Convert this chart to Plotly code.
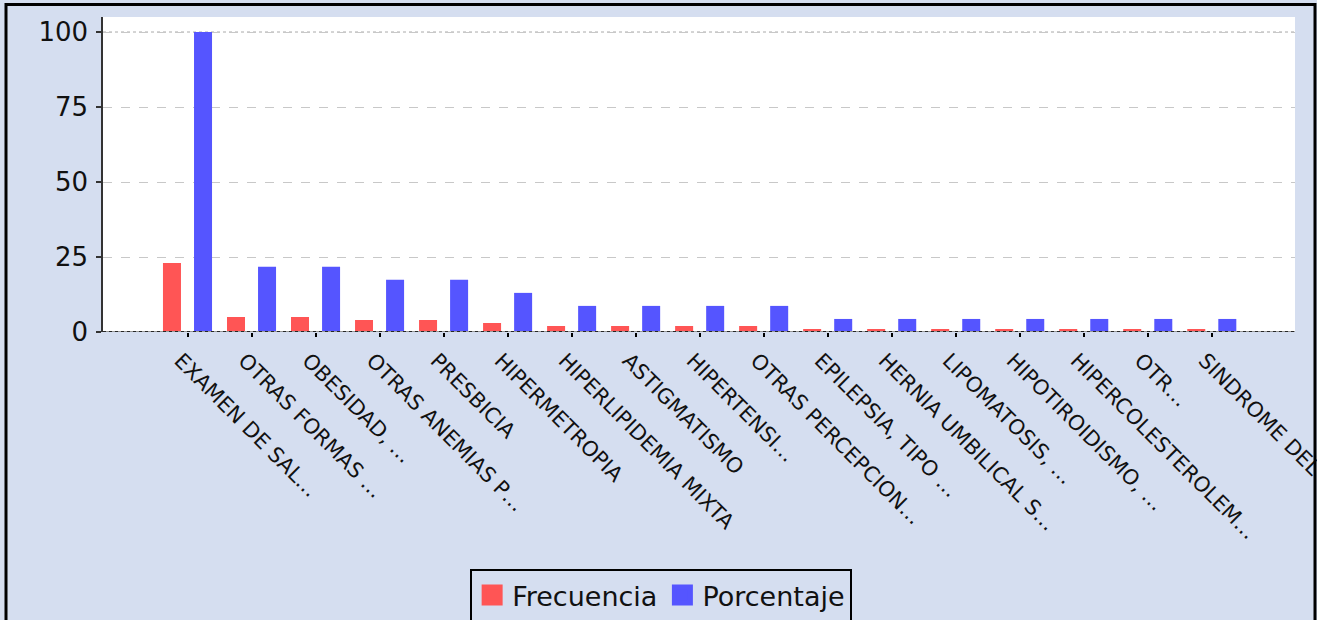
import plotly.graph_objects as go

categories = [
    "EXAMEN DE SAL…", "OTRAS FORMAS …", "OBESIDAD, …", "OTRAS ANEMIAS P…",
    "PRESBICIA", "HIPERMETROPIA", "HIPERLIPIDEMIA MIXTA", "ASTIGMATISMO",
    "HIPERTENSI…", "OTRAS PERCEPCION…", "EPILEPSIA, TIPO …", "HERNIA UMBILICAL S…",
    "LIPOMATOSIS, …", "HIPOTIROIDISMO, …", "HIPERCOLESTEROLEM…", "OTR…",
    "SINDROME DEL TUNEL…",
]
frecuencia = [23, 5, 5, 4, 4, 3, 2, 2, 2, 2, 1, 1, 1, 1, 1, 1, 1]
porcentaje = [100, 21.74, 21.74, 17.39, 17.39, 13.04, 8.7, 8.7, 8.7, 8.7,
              4.35, 4.35, 4.35, 4.35, 4.35, 4.35, 4.35]
y_ticks = [0, 25, 50, 75, 100]

RED = "#FF5555"
BLUE = "#5555FF"
BG = "#D5DEF0"
FONT = "DejaVu Sans"

W, H = 1317, 620
L, R, T, B = 103, 22, 17, 288

fig = go.Figure()
fig.add_trace(go.Bar(x=categories, y=frecuencia, name="Frecuencia",
                     marker=dict(color=RED, line=dict(width=0)), showlegend=False))
fig.add_trace(go.Bar(x=categories, y=porcentaje, name="Porcentaje",
                     marker=dict(color=BLUE, line=dict(width=0)), showlegend=False))
# legend entries with larger square symbols
for nm, col in (("Frecuencia", RED), ("Porcentaje", BLUE)):
    fig.add_trace(go.Scatter(x=[None], y=[None], mode="markers", name=nm,
                             marker=dict(symbol="square", size=16, color=col,
                                         line=dict(color=col, width=5))))

pw = W - L - R
ph = H - T - B
def px_to_paper_x(px):
    return (px - L) / pw
def px_to_paper_y(py):
    return (H - B - py) / ph

shapes = [
    # 100 gridline dotted
    dict(type="line", xref="paper", x0=0, x1=1, yref="y", y0=100, y1=100,
         line=dict(color="white", width=2), layer="below"),
    dict(type="line", xref="paper", x0=0, x1=1, yref="y", y0=100, y1=100,
         line=dict(color="#AAAAAA", width=1, dash="dot"), layer="below"),
    # bottom axis dotted line
    dict(type="line", xref="paper", x0=0, x1=1, yref="y", y0=0, y1=0,
         line=dict(color="#999999", width=2), layer="above"),
    dict(type="line", xref="paper", x0=0, x1=1, yref="y", y0=0, y1=0,
         line=dict(color="black", width=1.5, dash="dot"), layer="above"),
    # outer border
    dict(type="rect", xref="paper", yref="paper",
         x0=px_to_paper_x(6), x1=px_to_paper_x(1315),
         y0=px_to_paper_y(640), y1=px_to_paper_y(4.5),
         line=dict(color="black", width=3), fillcolor="rgba(0,0,0,0)", layer="above"),
]

fig.update_layout(
    width=W, height=H,
    margin=dict(l=L, r=R, t=T, b=B, autoexpand=False),
    paper_bgcolor=BG, plot_bgcolor="white",
    font=dict(family=FONT, color="#111111"),
    barmode="group", bargap=0.03, bargroupgap=0.42,
    shapes=shapes,
    showlegend=True,
    legend=dict(orientation="h", xref="container", x=0.502, xanchor="center",
                yref="container", y=(H - 569) / H, yanchor="top",
                bgcolor=BG, bordercolor="black", borderwidth=2,
                font=dict(size=27, family=FONT, color="#111111"),
                itemclick=False),
    xaxis=dict(range=[-1.32, 17.3], tickangle=45, automargin=False,
               tickfont=dict(size=21, family=FONT, color="#111111"),
               ticks="outside", ticklen=4, tickcolor="black", tickwidth=1.5,
               ticklabelstandoff=3, ticklabelshift=-7,
               showgrid=False, zeroline=False, showline=False),
    yaxis=dict(range=[0, 105], tickvals=y_ticks, automargin=False,
               tickfont=dict(size=26, family=FONT, color="#111111"),
               ticks="outside", ticklen=5, tickcolor="#333333", tickwidth=1.5,
               ticklabelstandoff=3,
               showline=True, linecolor="#333333", linewidth=1.5,
               showgrid=True, gridcolor="#C8C8C8", gridwidth=1, griddash="dash",
               zeroline=False),
)

fig.write_html("out.html", config={"displayModeBar": False},
               post_script="document.body.style.margin='0px';document.body.style.overflow='hidden';")
